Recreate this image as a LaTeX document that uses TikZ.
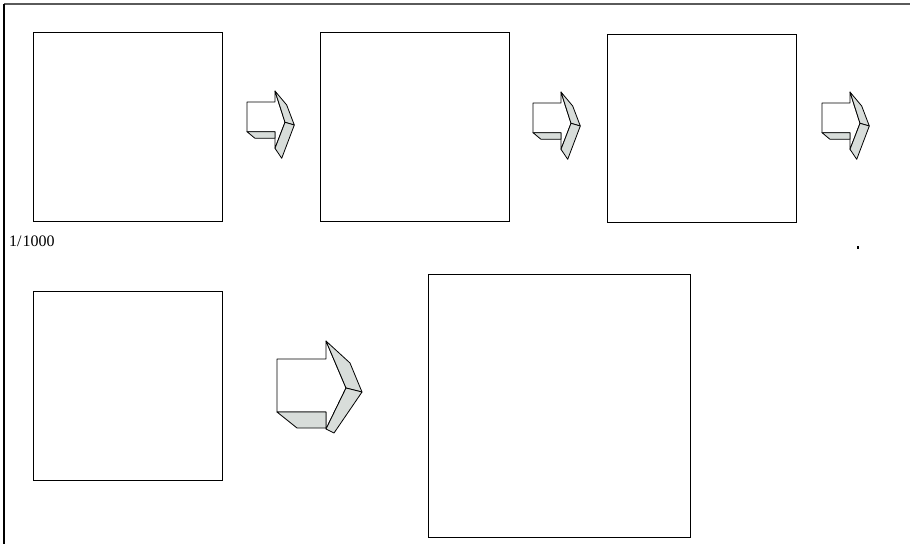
\documentclass[tikz,border=0pt]{standalone}
\usepackage{fontspec}
\setmainfont{Liberation Serif}
\definecolor{facegray}{RGB}{216,221,218}
\definecolor{framegray}{RGB}{90,90,90}
\tikzset{
  box/.style={draw=black, line width=0.8pt, fill=white, inner sep=0pt, outer sep=0pt, anchor=north west},
  face/.style={draw=black, line width=0.8pt, line join=round, fill=facegray},
  front/.style={draw=black, line width=0.8pt, line join=round, fill=white},
  smallarrow/.pic={
    \path[front] (0,11) -- (28,11) -- (28,0) -- (38,31.3) -- (28,57.3) -- (28,40.7) -- (0,40.7) -- cycle;
    \path[face] (0,40.7) -- (8,47.3) -- (28,47.3) -- (28,40.7) -- cycle;
    \path[face] (28,0) -- (39.7,14) -- (47.3,34) -- (38,31.3) -- cycle;
    \path[face] (38,31.3) -- (47.3,34) -- (34.7,67.3) -- (28,57.3) -- cycle;
  },
  bigarrow/.pic={
    \path[front] (0,18) -- (49,18) -- (49,0) -- (69,47) -- (49,88) -- (49,71) -- (0,71) -- cycle;
    \path[face] (0,71) -- (20,87) -- (49,87) -- (49,71) -- cycle;
    \path[face] (49,0) -- (73,22) -- (85,51) -- (69,47) -- cycle;
    \path[face] (69,47) -- (85,51) -- (57,92) -- (49,88) -- cycle;
  }
}
\begin{document}
\begin{tikzpicture}[x=1pt,y=-1pt]
\useasboundingbox (0,0) rectangle (910,544);
% frame
\draw[framegray, line width=1.5pt] (4,4) -- (910,4);
\draw[black, line width=1.5pt] (4,4) -- (4,544);
% boxes
\node[box, minimum width=189pt, minimum height=189pt] (b1) at (33,32) {};
\node[box, minimum width=189pt, minimum height=189pt] (b2) at (320,32) {};
\node[box, minimum width=189pt, minimum height=188pt] (b3) at (607,34) {};
\node[box, minimum width=189pt, minimum height=189pt] (b4) at (33,291) {};
\node[box, minimum width=262pt, minimum height=263pt] (b5) at (428,274) {};
% arrows
\pic at (247,91) {smallarrow};
\pic at (533,92) {smallarrow};
\pic at (822,92) {smallarrow};
\pic at (277,341) {bigarrow};
% text
\node[anchor=west, inner sep=0pt, font=\fontsize{16}{18}\selectfont] (scale) at (9,241) {1/\kern1pt1000};
\fill[black] (857,245.5) rectangle (859,248.5);
\coordinate (dot) at (858,247);
\end{tikzpicture}
\end{document}
